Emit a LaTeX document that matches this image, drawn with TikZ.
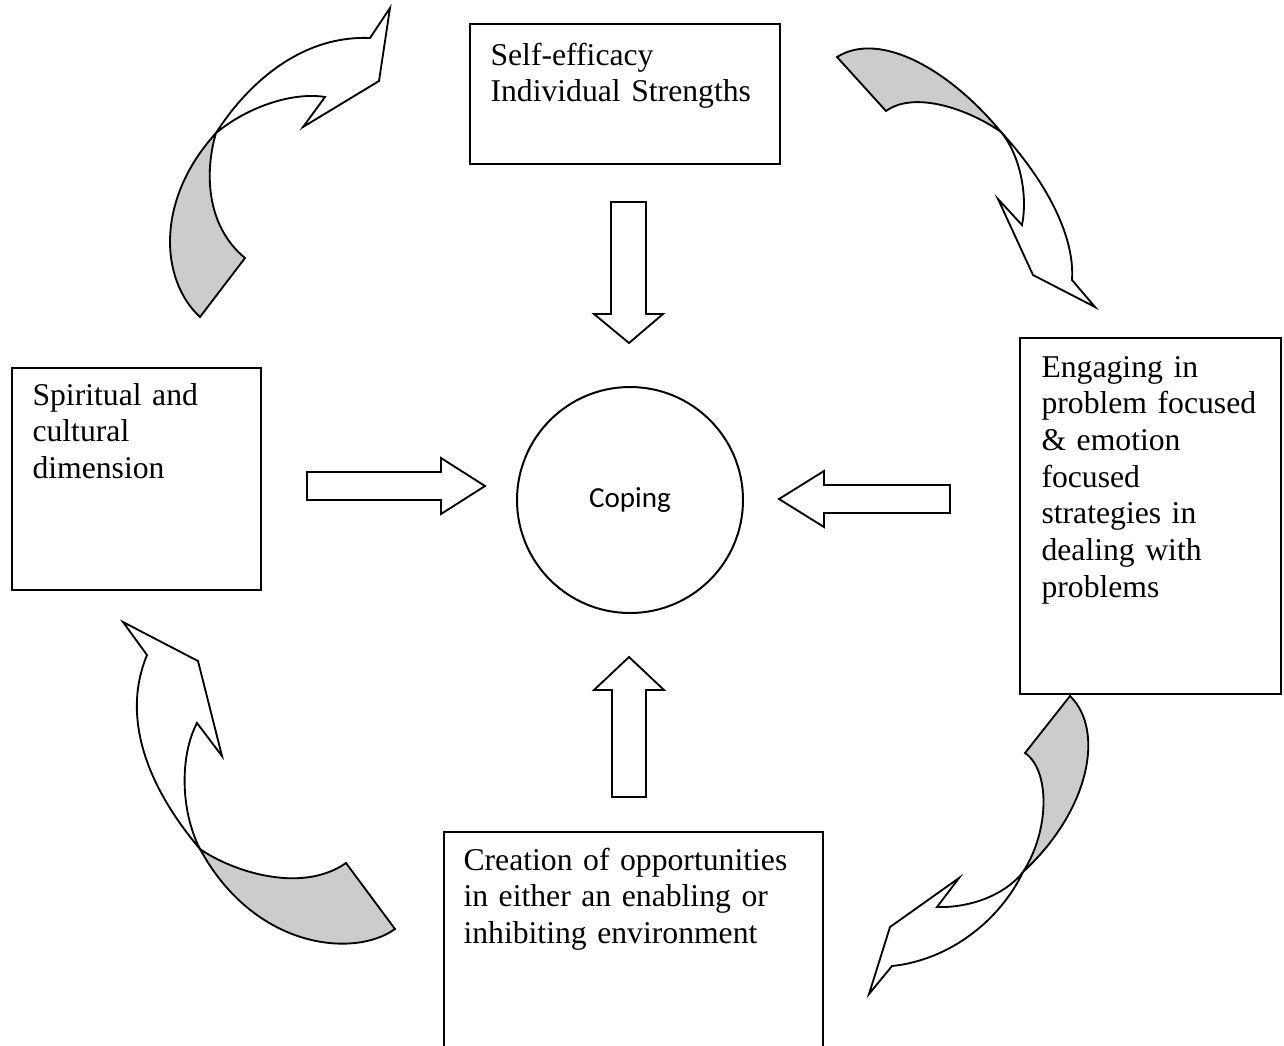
\documentclass[tikz,border=0pt]{standalone}
\usepackage{fontspec}
\setmainfont{Liberation Serif}
\newfontfamily\copingfont{Carlito}
\newcommand\pxu{0.3788pt}
\definecolor{ribbongray}{RGB}{204,204,204}
\begin{document}
\begin{tikzpicture}[x=0.3788pt, y=-0.3788pt,
  frame/.style={draw, line width=0.75pt, inner sep=0pt, anchor=north west},
  boxtext/.style={anchor=base west, inner sep=0pt, text width=150pt, align=left,
                  font=\fontsize{12}{13.9}\selectfont},
  blockarrow/.style={draw, line width=0.7pt, fill=white, line join=miter},
  ribbonfront/.style={draw, line width=0.7pt, fill=white, line join=miter},
  ribbonback/.style={draw, line width=0.7pt, fill=ribbongray, line join=miter},
]
\useasboundingbox (0,0) rectangle (1284,1045);

% --- boxes ---
\node[frame, minimum width=310*\pxu, minimum height=140*\pxu] (selfbox) at (469,23) {};
\node[boxtext] (selftext) at (490,65) {Self-efficacy\\Individual Strengths};

\node[frame, minimum width=249*\pxu, minimum height=222*\pxu] (spiritbox) at (11,367) {};
\node[boxtext] (spirittext) at (32,405) {Spiritual and\\cultural\\dimension};

\node[frame, minimum width=261*\pxu, minimum height=356*\pxu] (engagebox) at (1019,337) {};
\node[boxtext] (engagetext) at (1041,377) {Engaging in\\problem focused\\\& emotion\\focused\\strategies in\\dealing with\\problems};

\node[frame, minimum width=379*\pxu, minimum height=240*\pxu] (createbox) at (443,831) {};
\node[boxtext] (createtext) at (463,870) {Creation of opportunities\\in either an enabling or\\inhibiting environment};

% --- centre ---
\node[circle, draw, line width=0.75pt, minimum size=226*\pxu, inner sep=0pt,
      font=\copingfont\fontsize{11}{13}\selectfont] (coping) at (630,500) {Coping};

% --- block arrows towards the centre ---
\draw[blockarrow] (611,202) -- (646,202) -- (646,314) -- (663,314) -- (629,343)
                  -- (594,314) -- (611,314) -- cycle;
\draw[blockarrow] (612,797) -- (646,797) -- (646,690) -- (664,690) -- (629,657)
                  -- (594,690) -- (612,690) -- cycle;
\draw[blockarrow] (307,472) -- (441,472) -- (441,458) -- (485,486) -- (441,514)
                  -- (441,500) -- (307,500) -- cycle;
\draw[blockarrow] (950,485) -- (824,485) -- (824,471) -- (779,499) -- (824,527)
                  -- (824,513) -- (950,513) -- cycle;

% --- twisted ribbon arrows around the cycle ---
% upper left
\draw[ribbonback] (200,317) .. controls (160,280) and (155,200) .. (216,133)
                  .. controls (205,170) and (205,225) .. (245,258) -- cycle;
\draw[ribbonfront] (216,133) .. controls (242,92) and (295,35) .. (370,38)
                  -- (390,8) -- (379,81) -- (303,127) -- (325,97)
                  .. controls (295,92) and (250,105) .. (216,133) -- cycle;
% upper right
\draw[ribbonback] (837,57) .. controls (880,30) and (950,70) .. (1001,132)
                  .. controls (970,110) and (915,90) .. (886,111) -- cycle;
\draw[ribbonfront] (1001,132) .. controls (1045,180) and (1075,235) .. (1072,280)
                  -- (1095,307) -- (1033,275) -- (998,199) -- (1022,225)
                  .. controls (1028,195) and (1020,155) .. (1001,132) -- cycle;
% lower right
\draw[ribbonback] (1070,696) .. controls (1105,730) and (1090,810) .. (1023,872)
                  .. controls (1050,830) and (1050,770) .. (1025,753) -- cycle;
\draw[ribbonfront] (1023,872) .. controls (1005,895) and (970,908) .. (937,907)
                  -- (959,878) -- (890,927) -- (869,994) -- (892,966)
                  .. controls (950,960) and (1000,920) .. (1023,872) -- cycle;
% lower left
\draw[ribbonback] (200,849) .. controls (230,870) and (300,895) .. (346,863)
                  -- (395,929) .. controls (355,958) and (255,950) .. (200,849) -- cycle;
\draw[ribbonfront] (123,622) -- (198,661) -- (222,756) -- (197,723)
                  .. controls (180,755) and (180,810) .. (200,849)
                  .. controls (150,790) and (120,720) .. (147,655) -- cycle;
\end{tikzpicture}
\end{document}
